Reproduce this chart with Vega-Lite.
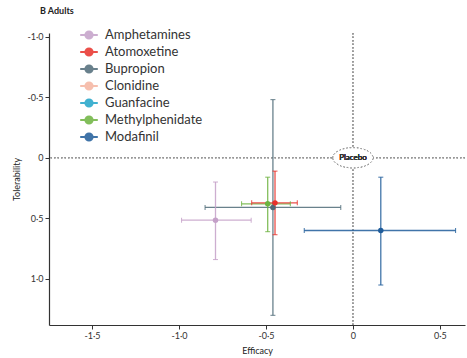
{
  "$schema": "https://vega.github.io/schema/vega-lite/v6.json",
  "autosize": "none",
  "width": 416,
  "height": 292,
  "padding": {"left": 49, "top": 33, "right": 2, "bottom": 33},
  "background": "white",
  "title": {"text": "B  Adults", "anchor": "start", "frame": "group", "dx": -9, "offset": 10, "fontSize": 9, "font": "Lato", "fontWeight": "bold", "color": "#222"},
  "config": {
    "view": {"stroke": null},
    "font": "Lato",
    "axis": {"grid": false, "domainColor": "#333", "tickColor": "#333", "tickSize": 4, "labelFontSize": 9, "labelColor": "#333", "titleFontSize": 9, "titleFontWeight": "normal", "titleColor": "#222", "domainWidth": 1.2}
  },
  "data": {"values": [
    {"drug": "Bupropion", "x": -0.46, "xlo": -0.85, "xhi": -0.07, "y": 0.41, "ylo": -0.48, "yhi": 1.30},
    {"drug": "Amphetamines", "x": -0.79, "xlo": -0.985, "xhi": -0.585, "y": 0.515, "ylo": 0.2, "yhi": 0.84},
    {"drug": "Methylphenidate", "x": -0.49, "xlo": -0.64, "xhi": -0.36, "y": 0.38, "ylo": 0.16, "yhi": 0.61},
    {"drug": "Atomoxetine", "x": -0.448, "xlo": -0.582, "xhi": -0.32, "y": 0.372, "ylo": 0.11, "yhi": 0.635},
    {"drug": "Modafinil", "x": 0.16, "xlo": -0.28, "xhi": 0.59, "y": 0.6, "ylo": 0.16, "yhi": 1.05}
  ]},
  "layer": [
    {"mark": {"type": "rule", "color": "#999", "strokeDash": [1.5, 2], "strokeWidth": 1}, "encoding": {"x": {"datum": 0, "type": "quantitative"}}},
    {"mark": {"type": "rule", "color": "#999", "strokeDash": [1.5, 2], "strokeWidth": 1}, "encoding": {"y": {"datum": 0, "type": "quantitative"}}},
    {"mark": {"type": "point", "shape": "M-1,0A1,0.5 0 1,1 1,0A1,0.5 0 1,1 -1,0Z", "size": 1600, "fill": "white", "filled": false, "stroke": "#999", "strokeDash": [1.5, 2], "strokeWidth": 1, "opacity": 1},
     "encoding": {"x": {"datum": 0, "type": "quantitative"}, "y": {"datum": 0, "type": "quantitative"}}},
    {"mark": {"type": "text", "text": "Placebo", "fontSize": 8, "color": "#333", "font": "Lato"},
     "encoding": {"x": {"datum": 0, "type": "quantitative"}, "y": {"datum": 0, "type": "quantitative"}}},
    {"mark": {"type": "rule", "strokeWidth": 1.3, "opacity": 0.85},
     "encoding": {
       "x": {"field": "xlo", "type": "quantitative", "scale": {"domain": [-1.747, 0.644], "nice": false, "zero": false},
         "axis": {"values": [-1.5, -1, -0.5, 0, 0.5], "title": "Efficacy", "titlePadding": 6, "labelExpr": "datum.value == 0 ? '0' : replace(replace(format(datum.value, '.1f'), '.', '·'), '−', '-')"}},
       "x2": {"field": "xhi"},
       "y": {"field": "y", "type": "quantitative", "scale": {"domain": [-1.03, 1.38], "reverse": true, "nice": false, "zero": false},
         "axis": {"values": [-1, -0.5, 0, 0.5, 1], "title": "Tolerability", "titlePadding": 5, "labelExpr": "datum.value == 0 ? '0' : replace(replace(format(datum.value, '.1f'), '.', '·'), '−', '-')"}},
       "color": {"field": "drug", "type": "nominal"}
     }},
    {"mark": {"type": "rule", "strokeWidth": 1.3, "opacity": 0.85},
     "encoding": {
       "x": {"field": "x", "type": "quantitative"},
       "y": {"field": "ylo", "type": "quantitative"},
       "y2": {"field": "yhi"},
       "color": {"field": "drug", "type": "nominal"}
     }},
    {"mark": {"type": "tick", "orient": "vertical", "size": 5, "thickness": 1, "opacity": 0.85},
     "encoding": {"x": {"field": "xlo", "type": "quantitative"}, "y": {"field": "y", "type": "quantitative"}, "color": {"field": "drug", "type": "nominal"}}},
    {"mark": {"type": "tick", "orient": "vertical", "size": 5, "thickness": 1, "opacity": 0.85},
     "encoding": {"x": {"field": "xhi", "type": "quantitative"}, "y": {"field": "y", "type": "quantitative"}, "color": {"field": "drug", "type": "nominal"}}},
    {"mark": {"type": "tick", "orient": "horizontal", "size": 5, "thickness": 1, "opacity": 0.85},
     "encoding": {"x": {"field": "x", "type": "quantitative"}, "y": {"field": "ylo", "type": "quantitative"}, "color": {"field": "drug", "type": "nominal"}}},
    {"mark": {"type": "tick", "orient": "horizontal", "size": 5, "thickness": 1, "opacity": 0.85},
     "encoding": {"x": {"field": "x", "type": "quantitative"}, "y": {"field": "yhi", "type": "quantitative"}, "color": {"field": "drug", "type": "nominal"}}},
    {"mark": {"type": "point", "filled": true, "size": 30, "opacity": 1},
     "encoding": {
       "x": {"field": "x", "type": "quantitative"},
       "y": {"field": "y", "type": "quantitative"},
       "color": {"field": "drug", "type": "nominal",
         "scale": {"domain": ["Amphetamines", "Atomoxetine", "Bupropion", "Clonidine", "Guanfacine", "Methylphenidate", "Modafinil"],
                   "range": ["#c4a0c8", "#e8312a", "#4f6b78", "#f5b5a0", "#20a4c8", "#6db33f", "#1f5c9a"]},
         "legend": {"title": null, "orient": "none", "legendX": 31, "legendY": -7, "padding": 0,
           "symbolType": "M-1.1,0L1.1,0M-0.45,0A0.45,0.45 0 1,0 0.45,0A0.45,0.45 0 1,0 -0.45,0Z",
           "symbolSize": 256, "symbolStrokeWidth": 2, "labelFontSize": 13, "labelFont": "Lato", "labelColor": "#333", "rowPadding": 0, "labelOffset": 7,
           "encode": {"symbols": {"update": {"stroke": {"scale": "color", "field": "value"}, "fill": {"scale": "color", "field": "value"}, "opacity": {"value": 1}}}}}}
     }}
  ]
}
